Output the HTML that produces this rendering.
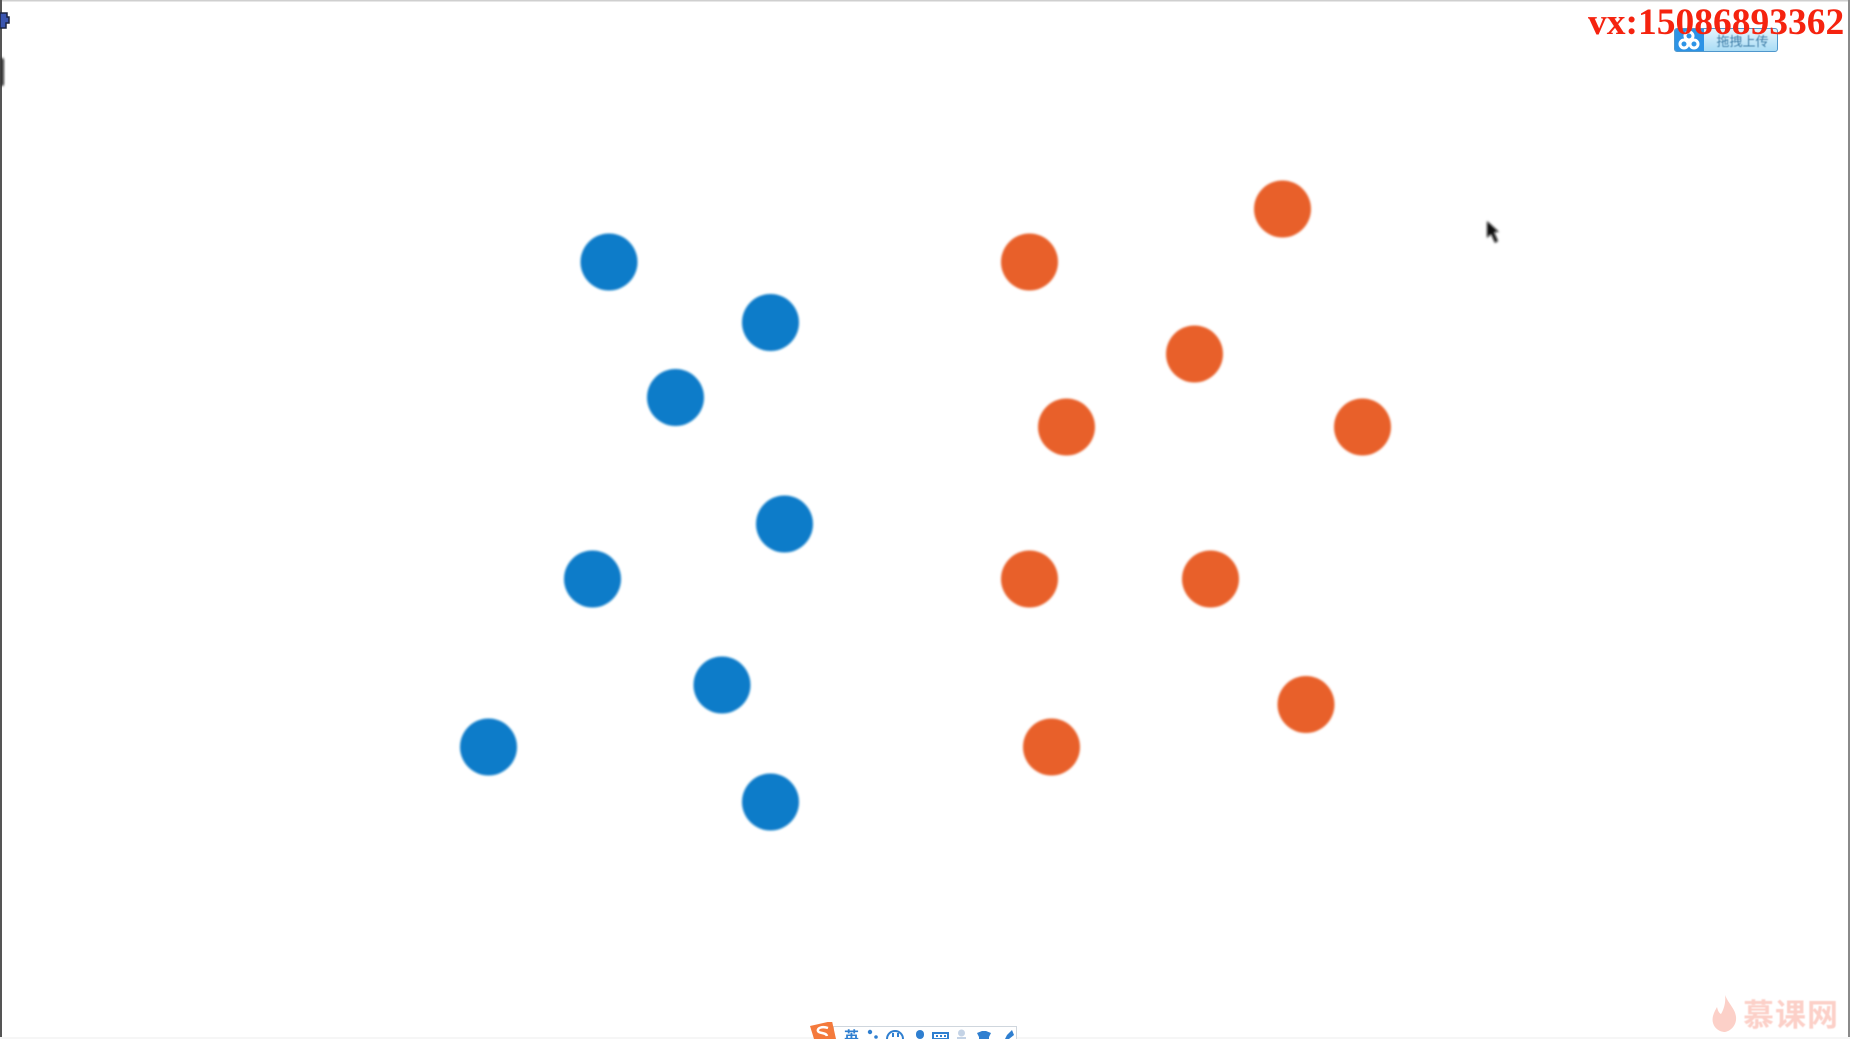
<!DOCTYPE html>
<html lang="zh">
<head>
<meta charset="utf-8">
<title>Scatter chart</title>
<style>
html,body{margin:0;padding:0;background:#fff;}
#stage{position:relative;width:1850px;height:1039px;overflow:hidden;background:#fff;font-family:"Liberation Sans","Noto Sans CJK SC",sans-serif;}
#chart{position:absolute;left:0;top:0;}
.abs{position:absolute;}
#contact{left:1588px;top:1px;font:bold 37.5px/44px "Liberation Serif","Noto Serif CJK SC",serif;color:#f5230f;white-space:nowrap;z-index:3;}
#upload{left:1674px;top:28px;width:104px;height:24px;box-sizing:border-box;border:1px solid #4f97cc;border-radius:3px;background:linear-gradient(#e4f5fd,#a9dcf5);overflow:hidden;z-index:2;}
#upload-icon{left:0;top:0;width:29px;height:22px;background:#2c93e6;}
#upload-text{left:31px;top:1px;width:73px;height:22px;text-align:center;font-size:13px;line-height:23px;color:#3f7ea8;filter:blur(.4px);}
#toolbar{left:833px;top:1026px;width:184px;height:20px;box-sizing:border-box;border:1px solid #cfd6dd;background:#fff;}
#ime-word{left:844px;top:1030px;font-size:15px;line-height:16px;color:#2f7fd0;font-weight:bold;filter:blur(.3px);}
#watermark{left:1743px;top:999px;font-size:31px;line-height:34px;color:#fcd0c8;white-space:nowrap;letter-spacing:1px;font-weight:bold;filter:blur(.6px);}
#bottom-line{left:0;top:1037px;width:1850px;height:2px;background:#f6f6f6;}
</style>
</head>
<body>
<div id="stage">
  <svg id="chart" width="1850" height="1039" viewBox="0 0 1850 1039">
    <defs><filter id="soft" x="-10%" y="-10%" width="120%" height="120%"><feGaussianBlur stdDeviation="1.1"/></filter>
    <filter id="softer" x="-30%" y="-30%" width="160%" height="160%"><feGaussianBlur stdDeviation="1.2"/></filter></defs>
    <g id="points"></g>
    <path d="M1487 221 L1487 238 L1491 234 L1495 243 L1498 241 L1494 232 L1499 232 Z" fill="#111" filter="url(#softer)"/>
    <rect x="0" y="0" width="1850" height="1.5" fill="#cfcfcf"/>
    <rect x="0" y="0" width="2" height="1039" fill="#555"/>
    <rect x="1848" y="0" width="2" height="1039" fill="#8a8a8a"/>
    <rect x="0" y="58" width="4" height="28" rx="2" fill="#333" filter="url(#softer)"/>
    <path d="M0 13 H7 V17 H9 V23 H6 V28 H0 Z" fill="#3a55b0" stroke="#1a2340" stroke-width="1.5"/>
    <path d="M1725 995 C1729 1005 1737 1010 1736 1020 C1735 1028 1728 1032 1724 1032 C1716 1031 1711 1024 1713 1016 C1714 1012 1716 1009 1717 1007 C1718 1011 1719 1013 1721 1014 C1724 1009 1726 1002 1725 995 Z" fill="#fcd0c8"/>
  </svg>

  <div id="bottom-line" class="abs"></div>

  <div id="upload" class="abs">
    <div id="upload-icon" class="abs">
      <svg width="29" height="22" viewBox="0 0 29 22"><g fill="none" stroke="#fff" stroke-width="3"><circle cx="9" cy="15" r="4"/><circle cx="19" cy="15" r="4"/><circle cx="14" cy="7" r="4"/></g></svg>
    </div>
    <div id="upload-text" class="abs">拖拽上传</div>
  </div>

  <div id="contact" class="abs">vx:15086893362</div>

  <div id="toolbar" class="abs"></div>
  <svg class="abs" style="left:808px;top:1022px" width="212" height="17" viewBox="0 0 212 17">
    <path d="M2 4 L24 -1 L28 17 L6 17 Z" fill="#f47a3c"/>
    <path d="M20 6 C14 4 9 6 10 9 C11 12 18 10 19 14" fill="none" stroke="#fff" stroke-width="2.5"/>
    <g fill="#2f7fd0">
      <circle cx="62" cy="10" r="2.2"/><circle cx="68" cy="15" r="1.8"/>
      <path d="M79 17 A8 8 0 1 1 95 17" fill="none" stroke="#2f7fd0" stroke-width="2"/>
      <rect x="84" y="11" width="2" height="4"/><rect x="89" y="11" width="2" height="4"/>
      <rect x="108" y="8" width="8" height="9" rx="4"/>
      <rect x="125" y="11" width="15" height="6" fill="none" stroke="#2f7fd0" stroke-width="2"/>
      <rect x="128" y="13" width="2" height="2"/><rect x="132" y="13" width="2" height="2"/><rect x="136" y="13" width="2" height="2"/>
      <circle cx="153.500" cy="11" r="3.500" fill="#c4d3e6"/><rect x="149" y="15" width="9" height="2" fill="#c4d3e6"/>
      <path d="M169 11 L174 9 H178 L183 11 L181 15 V17 H171 V15 Z"/>
      <path d="M204 8 L199 13 L197 17 H201 L206 13 Z"/>
    </g>
  </svg>
  <div id="ime-word" class="abs">英</div>

  <div id="watermark" class="abs">慕课网</div>
</div>

<script>
const blueX = [60.9, 77.05, 67.55, 78.45, 59.25, 72.2, 48.85, 77.05];
const blueY = [77.7, 71.65, 64.15, 51.5, 46.0, 35.4, 29.2, 23.7];
const orangeX = [128.25, 102.95, 119.45, 106.65, 136.25, 102.95, 121.05, 130.6, 105.15];
const orangeY = [83.0, 77.7, 68.5, 61.2, 61.2, 46.0, 46.0, 33.45, 29.2];

const xDomain = [0, 185];
const yDomain = [0, 103.9];
const plotW = 1850;
const plotH = 1039;

function xScale(v) { return (v - xDomain[0]) / (xDomain[1] - xDomain[0]) * plotW; }
function yScale(v) { return plotH - (v - yDomain[0]) / (yDomain[1] - yDomain[0]) * plotH; }

const NS = 'http://www.w3.org/2000/svg';
const pointsLayer = document.getElementById('points');

function drawSeries(xs, ys, color, name) {
  xs.forEach(function (xv, i) {
    const c = document.createElementNS(NS, 'circle');
    c.setAttribute('cx', xScale(xv));
    c.setAttribute('cy', yScale(ys[i]));
    c.setAttribute('r', 28.5);
    c.setAttribute('fill', color);
    c.setAttribute('filter', 'url(#soft)');
    
    
    pointsLayer.appendChild(c);
  });
}

drawSeries(blueX, blueY, '#0b7cc9', 'blue-point');
drawSeries(orangeX, orangeY, '#e8612b', 'orange-point');
</script>
</body>
</html>
